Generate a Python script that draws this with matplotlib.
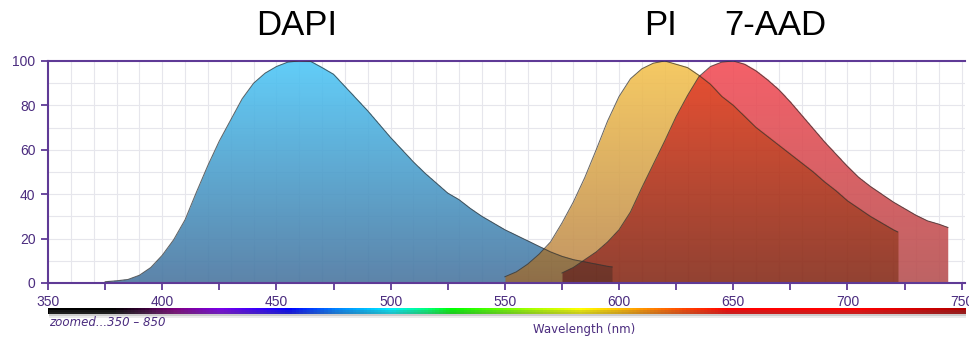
import numpy as np
import matplotlib
matplotlib.use("Agg")
import matplotlib.pyplot as plt
from matplotlib.colors import LinearSegmentedColormap, to_rgb
from matplotlib.ticker import MultipleLocator, FuncFormatter
from matplotlib.patches import Rectangle

# emission spectra (normalised to 100)
dapi_nm = [375, 380, 385, 390, 395, 400, 405, 410, 415, 420, 425, 430, 435, 440,
           445, 450, 455, 460, 465, 470, 475, 480, 485, 490, 495, 500, 505, 510,
           515, 520, 525, 530, 535, 540, 545, 550, 555, 560, 565, 570, 575, 580,
           585, 590, 595, 597]
dapi_val = [0.6, 1.0, 1.6, 3.5, 7, 12.5, 19.5, 28.5, 41, 53, 64, 73.5, 83, 90,
            94.5, 97.5, 99.5, 100, 99.8, 97, 94, 88.5, 83, 77.5, 71.5, 65.5, 60, 54.5,
            49.5, 45, 40.5, 37.5, 33.5, 30, 27, 24, 21.5, 19, 16.5, 14, 12, 10.5,
            9.5, 8.5, 7.5, 7.2]

pi_nm = [550, 555, 560, 565, 570, 575, 580, 585, 590, 595, 600, 605, 610, 615,
         620, 625, 630, 635, 640, 645, 650, 655, 660, 665, 670, 675, 680, 685,
         690, 695, 700, 705, 710, 715, 720, 722]
pi_val = [2.8, 5, 8.5, 13, 18.5, 27, 36.5, 47.5, 60, 73, 84, 92, 96.5, 99,
          100, 98.5, 97, 93.5, 89.5, 84, 80, 75, 70, 66, 62, 58, 54, 50,
          45.5, 41.5, 37, 33.5, 30, 27, 24, 23]

aad_nm = [575, 580, 585, 590, 595, 600, 605, 610, 615, 620, 625, 630, 635, 640,
          645, 650, 655, 660, 665, 670, 675, 680, 685, 690, 695, 700, 705, 710,
          715, 720, 725, 730, 735, 740, 744]
aad_val = [4.5, 7, 10.5, 14, 18.5, 24, 32, 43, 53.5, 64, 75, 84.5, 93, 97.5,
           99.5, 100, 98.5, 95.5, 91.5, 87, 81.5, 75.5, 69.5, 63.5, 58, 52.5, 47.5, 43.5,
           40, 36.5, 33.5, 30.5, 28, 26.5, 25]

# visible spectrum strip under the axis
spec_nm = [350, 378, 392, 405, 425, 445, 455, 475, 500, 515, 527, 560, 583,
           600, 615, 630, 648, 705, 751.5]
spec_col = ["#000000", "#000000", "#3a003a", "#800080", "#7a00e8", "#2a00ff",
            "#0000ff", "#0080ff", "#00f0ff", "#00ff80", "#00ff00", "#a0ff00",
            "#ffff00", "#ffc000", "#ff8000", "#ff4000", "#ff0000", "#ff0000",
            "#b00000"]

labels = ["DAPI", "PI", "7-AAD"]

purple = "#5f3a96"
txt_purple = "#4b2c7f"
xmin, xmax = 350, 751.5

fig = plt.figure(figsize=(9.7, 3.39), dpi=100)
ax = fig.add_axes([0.0495, 0.1652, 0.9454, 0.6549])

# light grid every 10
ax.vlines(np.arange(360, 751, 10), 0, 100, color="#e6e6ec", lw=0.8, zorder=0)
ax.hlines(np.arange(10, 100, 10), xmin, xmax, color="#e6e6ec", lw=0.8, zorder=0)

# filled spectra: composited as one image
xs = np.linspace(xmin, xmax, 1836)
ys = np.linspace(0, 100, 444)
X, Y = np.meshgrid(xs, ys)


def inside(nm, val):
    curve = np.interp(xs, nm, val)
    inrange = (xs >= nm[0]) & (xs <= nm[-1])
    return (Y <= curve[None, :]) & inrange[None, :]


def grad(top, bottom):
    t = (Y / 100.0)[..., None]
    b = np.array(to_rgb(bottom))
    return b + (np.array(to_rgb(top)) - b) * t


rgb = np.ones(X.shape + (3,))
m1 = inside(dapi_nm, dapi_val)
m2 = inside(pi_nm, pi_val)
m3 = inside(aad_nm, aad_val)

g1 = grad("#50c8f8", "#4a76a0")
rgb[m1] = g1[m1]
a_pi = 0.68
g2 = grad("#f0a800", "#9c5200")
rgb[m2] = a_pi * g2[m2] + (1 - a_pi) * rgb[m2]
g3 = grad("#f44e58", "#b65252")
rgb[m3] = rgb[m3] * g3[m3]

alpha = np.where(m1 | m2 | m3, 0.9, 0.0)
img = np.dstack([rgb, alpha])
ax.imshow(img, extent=[xmin, xmax, 0, 100], origin="lower", aspect="auto",
          interpolation="bilinear", zorder=2)

for nm, val in [(dapi_nm, dapi_val), (pi_nm, pi_val), (aad_nm, aad_val)]:
    ax.plot(nm, val, color="#333333", lw=0.7, alpha=0.75, zorder=3)

ax.set_xlim(xmin, xmax)
ax.set_ylim(0, 100)

for s in ["left", "bottom", "top"]:
    ax.spines[s].set_color(purple)
    ax.spines[s].set_linewidth(1.5)
ax.spines["right"].set_visible(False)

ax.xaxis.set_major_locator(MultipleLocator(25))
ax.xaxis.set_major_formatter(FuncFormatter(lambda v, p: "%d" % v if v % 50 == 0 else ""))
ax.yaxis.set_major_locator(MultipleLocator(20))
ax.tick_params(axis="both", colors=purple, labelcolor=txt_purple, length=5,
               width=1.3, labelsize=10, direction="out")
ax.tick_params(axis="x", pad=4)
ax.tick_params(axis="y", pad=4)
for lab in ax.get_xticklabels() + ax.get_yticklabels():
    lab.set_family("Liberation Sans")

# dye names above the peaks
ax.text(459, 1.16, labels[0], transform=ax.get_xaxis_transform(), ha="center",
        va="center", fontsize=25, family="Liberation Sans")
ax.text(618, 1.16, labels[1], transform=ax.get_xaxis_transform(), ha="center",
        va="center", fontsize=25, family="Liberation Sans")
ax.text(668.5, 1.16, labels[2], transform=ax.get_xaxis_transform(), ha="center",
        va="center", fontsize=25, family="Liberation Sans")

# spectrum strip with a soft shadow
for dy, a in [(0.006, 0.22), (0.011, 0.12)]:
    fig.patches.append(Rectangle((0.0505, 0.0737 - dy), 0.9454, 0.0177,
                                 transform=fig.transFigure, color="#606060",
                                 alpha=a, lw=0, zorder=0))
sax = fig.add_axes([0.0495, 0.0737, 0.9454, 0.0177])
pos = [(v - xmin) / (xmax - xmin) for v in spec_nm]
cmap = LinearSegmentedColormap.from_list("spectrum", list(zip(pos, spec_col)))
sax.imshow(np.linspace(xmin, xmax, 1200)[None, :], cmap=cmap, vmin=xmin, vmax=xmax,
           extent=[xmin, xmax, 0, 1], aspect="auto")
sax.axis("off")

fig.text(0.0505, 0.050, "zoomed...350 – 850", color=txt_purple, fontsize=8.5,
         style="italic", ha="left", va="center", family="DejaVu Sans")
fig.text(0.602, 0.027, "Wavelength (nm)", color=txt_purple, fontsize=8.5,
         ha="center", va="center", family="DejaVu Sans")

fig.savefig("out.png", dpi=100)
